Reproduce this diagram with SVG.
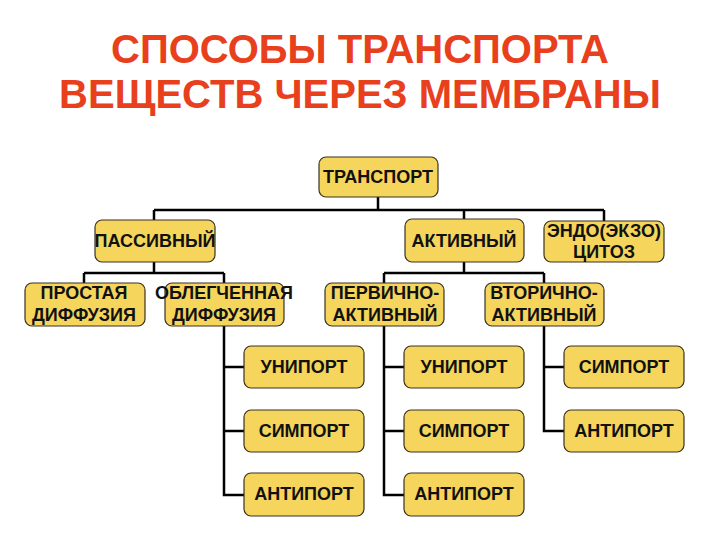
<svg xmlns="http://www.w3.org/2000/svg" width="720" height="540" viewBox="0 0 720 540">
<style>
.title{font-family:"Liberation Sans",Arial,sans-serif;font-weight:bold;font-size:40px;fill:#E8401C;text-anchor:middle}
.box{fill:#F5D55C;stroke:#3a3320;stroke-width:1.2}
.t{font-family:"Liberation Sans",Arial,sans-serif;font-weight:bold;font-size:18px;fill:#111;text-anchor:middle}
.c{fill:none;stroke:#000;stroke-width:2.5}
</style>
<rect width="720" height="540" fill="#fff"/>
<text class="title" x="360" y="63">СПОСОБЫ ТРАНСПОРТА</text>
<text class="title" x="360" y="108">ВЕЩЕСТВ ЧЕРЕЗ МЕМБРАНЫ</text>
<g id="connectors">
<path class="c" d="M378 197V210M154 210H604M154 210V220M464 210V219M604 210V221"/>
<path class="c" d="M154 262V273M84 273H224M84 273V283M224 273V283"/>
<path class="c" d="M464 262V273M384 273H544M384 273V283M544 273V283"/>
<path class="c" d="M224 326V495H244M224 367H244M224 431H244"/>
<path class="c" d="M384 326V495H404M384 367H404M384 431H404"/>
<path class="c" d="M544 326V431H564M544 367H564"/>
</g>
<g id="n-transport"><rect class="box" x="319" y="157" width="119" height="40" rx="7"/><text class="t" x="378" y="183">ТРАНСПОРТ</text></g>
<g id="n-passive"><rect class="box" x="95" y="220" width="120" height="42" rx="7"/><text class="t" x="155" y="247">ПАССИВНЫЙ</text></g>
<g id="n-active"><rect class="box" x="405" y="219" width="119" height="43" rx="7"/><text class="t" x="464" y="247">АКТИВНЫЙ</text></g>
<g id="n-endo"><rect class="box" x="544" y="221" width="120" height="41" rx="7"/><text class="t" x="604" y="237">ЭНДО(ЭКЗО)</text><text class="t" x="604" y="258">ЦИТОЗ</text></g>
<g id="n-simple"><rect class="box" x="25" y="283" width="120" height="43" rx="7"/><text class="t" x="84" y="299">ПРОСТАЯ</text><text class="t" x="84" y="321">ДИФФУЗИЯ</text></g>
<g id="n-facil"><rect class="box" x="165" y="283" width="119" height="43" rx="7"/><text class="t" x="224" y="299">ОБЛЕГЧЕННАЯ</text><text class="t" x="224" y="321">ДИФФУЗИЯ</text></g>
<g id="n-primary"><rect class="box" x="325" y="283" width="119" height="43" rx="7"/><text class="t" x="385" y="299">ПЕРВИЧНО-</text><text class="t" x="385" y="321">АКТИВНЫЙ</text></g>
<g id="n-secondary"><rect class="box" x="485" y="283" width="119" height="43" rx="7"/><text class="t" x="544" y="299">ВТОРИЧНО-</text><text class="t" x="544" y="321">АКТИВНЫЙ</text></g>
<g id="n-c1r1"><rect class="box" x="244" y="346" width="120" height="42" rx="7"/><text class="t" x="304" y="373">УНИПОРТ</text></g>
<g id="n-c1r2"><rect class="box" x="244" y="410" width="120" height="42" rx="7"/><text class="t" x="304" y="437">СИМПОРТ</text></g>
<g id="n-c1r3"><rect class="box" x="244" y="473" width="120" height="43" rx="7"/><text class="t" x="304" y="500">АНТИПОРТ</text></g>
<g id="n-c2r1"><rect class="box" x="404" y="346" width="120" height="42" rx="7"/><text class="t" x="464" y="373">УНИПОРТ</text></g>
<g id="n-c2r2"><rect class="box" x="404" y="410" width="120" height="42" rx="7"/><text class="t" x="464" y="437">СИМПОРТ</text></g>
<g id="n-c2r3"><rect class="box" x="404" y="473" width="120" height="43" rx="7"/><text class="t" x="464" y="500">АНТИПОРТ</text></g>
<g id="n-c3r1"><rect class="box" x="564" y="346" width="120" height="42" rx="7"/><text class="t" x="624" y="373">СИМПОРТ</text></g>
<g id="n-c3r2"><rect class="box" x="564" y="410" width="120" height="42" rx="7"/><text class="t" x="624" y="437">АНТИПОРТ</text></g>
</svg>
